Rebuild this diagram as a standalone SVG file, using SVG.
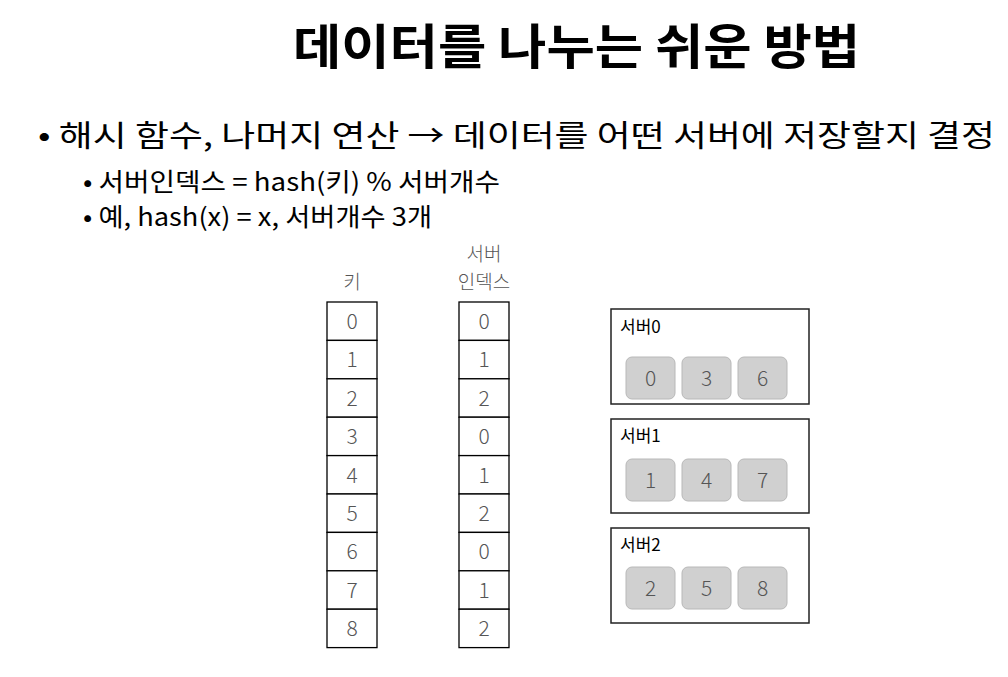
<svg xmlns="http://www.w3.org/2000/svg" width="1008" height="677" viewBox="0 0 1008 677">
<style>
text{font-family:"Noto Sans CJK KR","Noto Sans",sans-serif;fill:#000}
.title{font-size:48px;font-weight:bold}
.b1{font-size:30px}
.b2{font-size:25px}
.hdr{font-size:19px;fill:#555;font-weight:300}
.cell{fill:#fff;stroke:#000;stroke-width:1.3}
.num{font-size:21px;fill:#555;font-weight:300;text-anchor:middle}
.srv{fill:#fff;stroke:#222;stroke-width:1.5}
.item{fill:#d0d0d0;stroke:#b8b8b8;stroke-width:1}
.slab{font-size:17px}
</style>
<text class="title" x="293" y="64" textLength="567" lengthAdjust="spacingAndGlyphs">데이터를 나누는 쉬운 방법</text>
<text class="b1" x="38" y="146" textLength="957" lengthAdjust="spacingAndGlyphs">• 해시 함수, 나머지 연산 → 데이터를 어떤 서버에 저장할지 결정</text>
<text class="b2" x="83" y="191" textLength="417" lengthAdjust="spacingAndGlyphs">• 서버인덱스 = hash(키) % 서버개수</text>
<text class="b2" x="83" y="226" textLength="349" lengthAdjust="spacingAndGlyphs">• 예, hash(x) = x, 서버개수 3개</text>
<g id="keys">
<text class="hdr" x="352" y="289" text-anchor="middle">키</text>
<rect class="cell" x="327" y="302" width="50" height="38.4"/>
<rect class="cell" x="327" y="340.4" width="50" height="38.4"/>
<rect class="cell" x="327" y="378.8" width="50" height="38.4"/>
<rect class="cell" x="327" y="417.2" width="50" height="38.4"/>
<rect class="cell" x="327" y="455.6" width="50" height="38.4"/>
<rect class="cell" x="327" y="494" width="50" height="38.4"/>
<rect class="cell" x="327" y="532.4" width="50" height="38.4"/>
<rect class="cell" x="327" y="570.8" width="50" height="38.4"/>
<rect class="cell" x="327" y="609.2" width="50" height="38.4"/>
<text class="num" x="352" y="329">0</text>
<text class="num" x="352" y="367.4">1</text>
<text class="num" x="352" y="405.8">2</text>
<text class="num" x="352" y="444.2">3</text>
<text class="num" x="352" y="482.6">4</text>
<text class="num" x="352" y="521">5</text>
<text class="num" x="352" y="559.4">6</text>
<text class="num" x="352" y="597.8">7</text>
<text class="num" x="352" y="636.2">8</text>
</g>
<g id="indexes">
<text class="hdr" x="484" y="261" text-anchor="middle">서버</text>
<text class="hdr" x="484" y="289" text-anchor="middle">인덱스</text>
<rect class="cell" x="459" y="302" width="50" height="38.4"/>
<rect class="cell" x="459" y="340.4" width="50" height="38.4"/>
<rect class="cell" x="459" y="378.8" width="50" height="38.4"/>
<rect class="cell" x="459" y="417.2" width="50" height="38.4"/>
<rect class="cell" x="459" y="455.6" width="50" height="38.4"/>
<rect class="cell" x="459" y="494" width="50" height="38.4"/>
<rect class="cell" x="459" y="532.4" width="50" height="38.4"/>
<rect class="cell" x="459" y="570.8" width="50" height="38.4"/>
<rect class="cell" x="459" y="609.2" width="50" height="38.4"/>
<text class="num" x="484" y="329">0</text>
<text class="num" x="484" y="367.4">1</text>
<text class="num" x="484" y="405.8">2</text>
<text class="num" x="484" y="444.2">0</text>
<text class="num" x="484" y="482.6">1</text>
<text class="num" x="484" y="521">2</text>
<text class="num" x="484" y="559.4">0</text>
<text class="num" x="484" y="597.8">1</text>
<text class="num" x="484" y="636.2">2</text>
</g>
<g id="server0">
<rect class="srv" x="611" y="309" width="198" height="95"/>
<text class="slab" x="620" y="333">서버0</text>
<rect class="item" x="626" y="357" width="49" height="42" rx="6"/>
<rect class="item" x="682" y="357" width="49" height="42" rx="6"/>
<rect class="item" x="738" y="357" width="49" height="42" rx="6"/>
<text class="num" x="650.5" y="386">0</text>
<text class="num" x="706.5" y="386">3</text>
<text class="num" x="762.5" y="386">6</text>
</g>
<g id="server1">
<rect class="srv" x="611" y="419" width="198" height="94"/>
<text class="slab" x="620" y="442">서버1</text>
<rect class="item" x="626" y="459" width="49" height="42" rx="6"/>
<rect class="item" x="682" y="459" width="49" height="42" rx="6"/>
<rect class="item" x="738" y="459" width="49" height="42" rx="6"/>
<text class="num" x="650.5" y="488">1</text>
<text class="num" x="706.5" y="488">4</text>
<text class="num" x="762.5" y="488">7</text>
</g>
<g id="server2">
<rect class="srv" x="611" y="528" width="198" height="95"/>
<text class="slab" x="620" y="551">서버2</text>
<rect class="item" x="626" y="567" width="49" height="42" rx="6"/>
<rect class="item" x="682" y="567" width="49" height="42" rx="6"/>
<rect class="item" x="738" y="567" width="49" height="42" rx="6"/>
<text class="num" x="650.5" y="596">2</text>
<text class="num" x="706.5" y="596">5</text>
<text class="num" x="762.5" y="596">8</text>
</g>
<g id="connectors"></g>
</svg>
